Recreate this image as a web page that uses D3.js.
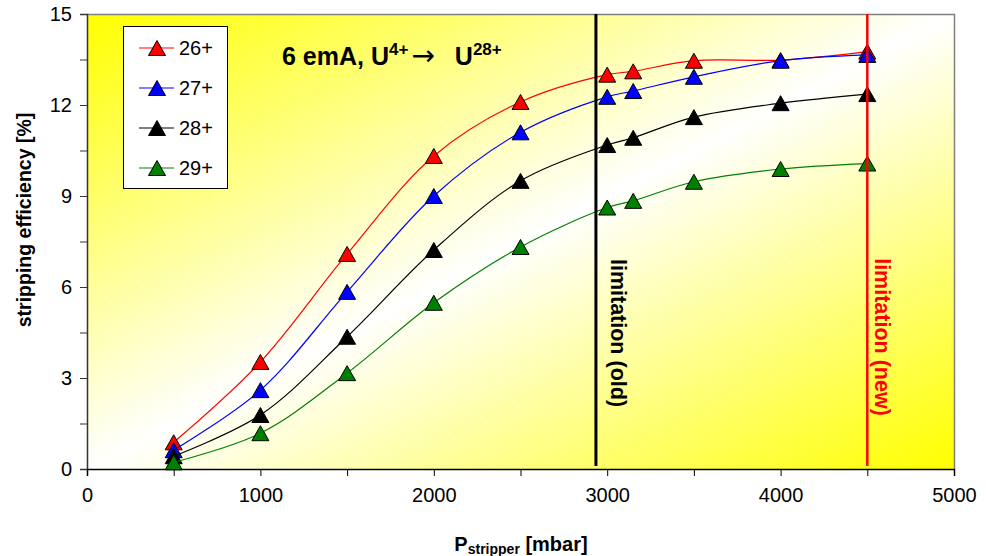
<!DOCTYPE html>
<html><head><meta charset="utf-8">
<script src="https://cdn.jsdelivr.net/npm/d3@7"></script>
<style>body{margin:0;background:#fff;} text{font-family:"Liberation Sans",Arial,sans-serif;}</style>
</head><body>
<svg id="chart" width="986" height="556"></svg>
<script>
const pressure = [500, 1000, 1500, 2000, 2500, 3000, 3150, 3500, 4000, 4500];
const seriesNames = ["26+", "27+", "28+", "29+"];
const eff26 = [0.88, 3.53, 7.09, 10.32, 12.1, 13.0, 13.11, 13.46, 13.48, 13.76];
const eff27 = [0.62, 2.6, 5.84, 9.0, 11.1, 12.27, 12.46, 12.93, 13.46, 13.65];
const eff28 = [0.42, 1.78, 4.36, 7.22, 9.5, 10.68, 10.92, 11.6, 12.06, 12.36];
const eff29 = [0.22, 1.18, 3.16, 5.48, 7.32, 8.62, 8.84, 9.47, 9.89, 10.07];
const seriesColors = ["#ff0000", "#0000ff", "#000000", "#008000"];
const xTicks = [0, 1000, 2000, 3000, 4000, 5000];
const yTicks = [0, 3, 6, 9, 12, 15];
const limitX = [2935, 4500];
const limitLabels = ["limitation (old)", "limitation (new)"];
const limitColors = ["#000000", "#ff0000"];

const svg = d3.select("#chart");
const L = 87, R = 954, T = 14, B = 469;
const x = d3.scaleLinear().domain([0, 5000]).range([L, R]);
const y = d3.scaleLinear().domain([0, 15]).range([B, T]);

// gradient background
const defs = svg.append("defs");
const g = defs.append("linearGradient").attr("id", "bg")
  .attr("x1", 0).attr("y1", 0).attr("x2", 1).attr("y2", 1);
g.append("stop").attr("offset", 0).attr("stop-color", "#ffff00");
g.append("stop").attr("offset", 0.5).attr("stop-color", "#ffffff");
g.append("stop").attr("offset", 1).attr("stop-color", "#ffff00");
svg.append("rect").attr("x", L).attr("y", T).attr("width", R - L).attr("height", B - T)
  .attr("fill", "url(#bg)");
// plot border top/right
svg.append("path").attr("d", `M${L},${T + 0.5}H${R + 0.5}V${B}`).attr("fill", "none")
  .attr("stroke", "#808080").attr("stroke-width", 1.5);

// axes
const yAxis = d3.axisLeft(y).tickValues(d3.range(0, 15.01, 1.5)).tickSize(7)
  .tickFormat(d => yTicks.includes(d) ? d3.format("d")(d) : "");
const gy = svg.append("g").attr("transform", `translate(${L},0)`).call(yAxis);
gy.select(".domain").attr("stroke", "#333").attr("stroke-width", 1.5);
gy.selectAll(".tick line").attr("stroke", "#333");
gy.selectAll(".tick text").attr("font-size", 20).attr("fill", "#000").attr("x", -15)
  .attr("font-family", "Liberation Sans, Arial, sans-serif");

const xAxis = d3.axisBottom(x).tickValues(d3.range(0, 5001, 500)).tickSize(7)
  .tickFormat(d => xTicks.includes(d) ? d : "");
const gx = svg.append("g").attr("transform", `translate(0,${B})`).call(xAxis);
gx.select(".domain").attr("stroke", "#000").attr("stroke-width", 1.5);
gx.selectAll(".tick line").attr("stroke", "#000");
gx.selectAll(".tick text").attr("font-size", 20).attr("fill", "#000").attr("y", 19)
  .attr("font-family", "Liberation Sans, Arial, sans-serif");

// series
const allSeries = [eff26, eff27, eff28, eff29];
const line = d3.line().x(d => x(d[0])).y(d => y(d[1])).curve(d3.curveCatmullRom.alpha(0.5));
const tri = (w, h) => `M0,${-h / 2}L${w / 2},${h / 2}L${-w / 2},${h / 2}Z`;
allSeries.forEach((vals, i) => {
  const pts = pressure.map((p, j) => [p, vals[j]]);
  svg.append("path").datum(pts).attr("d", line).attr("fill", "none")
    .attr("stroke", seriesColors[i]).attr("stroke-width", 1.2);
  svg.append("g").selectAll("path").data(pts).join("path")
    .attr("d", tri(17, 15))
    .attr("transform", d => `translate(${x(d[0])},${y(d[1])})`)
    .attr("fill", seriesColors[i]).attr("stroke", "#000").attr("stroke-width", 1);
});

// limitation lines
limitX.forEach((lx, i) => {
  svg.append("line").attr("x1", x(lx)).attr("x2", x(lx)).attr("y1", y(15)).attr("y2", y(0.1))
    .attr("stroke", limitColors[i]).attr("stroke-width", i === 0 ? 3 : 2.5);
});
const limitTextPos = [[619, 333], [883, 337]];
limitX.forEach((lx, i) => {
  svg.append("text").attr("transform", `translate(${limitTextPos[i][0]},${limitTextPos[i][1]}) rotate(90)`)
    .attr("text-anchor", "middle").attr("dy", "0.35em").attr("font-size", 21.5)
    .attr("font-weight", "bold").attr("fill", limitColors[i]).text(limitLabels[i]);
});

// legend
svg.append("rect").attr("x", 123.5).attr("y", 26.5).attr("width", 104).attr("height", 162)
  .attr("fill", "#fff").attr("stroke", "#000").attr("stroke-width", 1);
seriesNames.forEach((n, i) => {
  const cy = 48 + i * 40;
  svg.append("line").attr("x1", 139).attr("x2", 174).attr("y1", cy).attr("y2", cy)
    .attr("stroke", seriesColors[i]).attr("stroke-width", 1.2);
  svg.append("path").attr("d", tri(17, 15)).attr("transform", `translate(157,${cy})`)
    .attr("fill", seriesColors[i]).attr("stroke", "#000");
  svg.append("text").attr("x", 179).attr("y", cy + 7).attr("font-size", 20).text(n);
});

// title
const t = svg.append("text").attr("x", 282).attr("y", 65).attr("font-size", 25).attr("font-weight", "bold");
t.append("tspan").text("6 emA, U");
t.append("tspan").attr("font-size", 17).attr("dy", -10).text("4+");
t.append("tspan").attr("dy", 10).attr("dx", 3).attr("font-family", "DejaVu Sans").attr("font-weight", "normal")
  .attr("font-size", 28).text("→");
t.append("tspan").attr("dx", 20).text("U");
t.append("tspan").attr("font-size", 17).attr("dy", -10).text("28+");

// axis titles
svg.append("text").attr("transform", "translate(24,220) rotate(-90)").attr("text-anchor", "middle")
  .attr("dy", "0.35em").attr("font-size", 19.5).attr("font-weight", "bold").text("stripping efficiency [%]");
const xt = svg.append("text").attr("x", 521).attr("y", 551).attr("text-anchor", "middle")
  .attr("font-size", 20).attr("font-weight", "bold");
xt.append("tspan").text("P");
xt.append("tspan").attr("font-size", 14).attr("dy", 3).text("stripper");
xt.append("tspan").attr("dy", -3).text(" [mbar]");
</script>
</body></html>
